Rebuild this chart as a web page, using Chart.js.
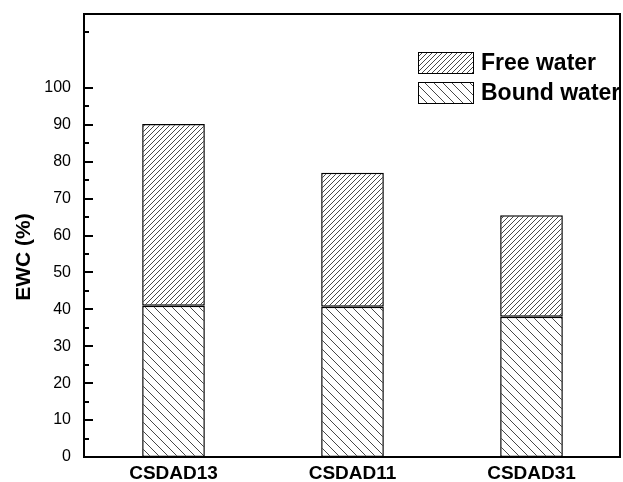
<!DOCTYPE html>
<html>
<head>
<meta charset="utf-8">
<script src="https://cdn.jsdelivr.net/npm/chart.js@4"></script>
<style>
  html, body { margin: 0; padding: 0; background: #fff; }
  #wrap { width: 623px; height: 482px; }
</style>
</head>
<body>
<div id="wrap"><canvas id="c" width="623" height="482"></canvas></div>
<script>
const categories = ["CSDAD13", "CSDAD11", "CSDAD31"];
const boundWater = [41.0, 40.7, 38.0];
const freeWater = [49.2, 36.3, 27.5];
const yLabelValues = [0, 10, 20, 30, 40, 50, 60, 70, 80, 90, 100];
const yMinorValues = [5, 15, 25, 35, 45, 55, 65, 75, 85, 95, 115];
const seriesNames = ["Bound water", "Free water"];
const yTitle = "EWC (%)";

const FONT = 'Arial, "Liberation Sans", sans-serif';

function hatch(period, dir) {
  const c = document.createElement('canvas');
  c.width = period; c.height = period;
  const g = c.getContext('2d');
  g.fillStyle = '#fff';
  g.fillRect(0, 0, period, period);
  g.strokeStyle = '#333';
  g.lineWidth = 0.9;
  g.beginPath();
  if (dir === '/') {
    for (const o of [-period, 0, period]) {
      g.moveTo(o, period); g.lineTo(o + period, 0);
    }
  } else {
    for (const o of [-period, 0, period]) {
      g.moveTo(o, 0); g.lineTo(o + period, period);
    }
  }
  g.stroke();
  return g.createPattern(c, 'repeat');
}

const ctx = document.getElementById('c').getContext('2d');
const freePattern = hatch(5, '/');
const boundPattern = hatch(9, '\\');

const framePlugin = {
  id: 'frame',
  afterDatasetsDraw(chart) {
    const { ctx, chartArea: a, scales } = chart;
    const y = scales.y;
    ctx.save();
    ctx.strokeStyle = '#000';
    ctx.lineWidth = 2;
    ctx.strokeRect(a.left, a.top, a.right - a.left - 1, a.bottom - a.top);
    ctx.beginPath();
    for (const v of yLabelValues) {
      const py = Math.round(y.getPixelForValue(v));
      ctx.moveTo(a.left, py); ctx.lineTo(a.left + 9, py);
    }
    for (const v of yMinorValues) {
      const py = Math.round(y.getPixelForValue(v));
      ctx.moveTo(a.left, py); ctx.lineTo(a.left + 5, py);
    }
    ctx.stroke();
    ctx.fillStyle = '#000';
    ctx.font = 'bold 21px ' + FONT;
    ctx.textAlign = 'center';
    ctx.textBaseline = 'middle';
    ctx.translate(24, 257);
    ctx.rotate(-Math.PI / 2);
    ctx.fillText(yTitle, 0, 0);
    ctx.restore();

    ctx.save();
    const ds = chart.data.datasets;
    const order = [1, 0];
    const bx = 418, bw = 55, bh = 21;
    const tops = [52, 82];
    order.forEach((i, k) => {
      ctx.fillStyle = ds[i].backgroundColor;
      ctx.fillRect(bx, tops[k], bw, bh);
      ctx.strokeStyle = '#000';
      ctx.lineWidth = 1;
      ctx.strokeRect(bx + 0.5, tops[k] + 0.5, bw, bh);
      ctx.fillStyle = '#000';
      ctx.font = 'bold 23px ' + FONT;
      ctx.textAlign = 'left';
      ctx.textBaseline = 'middle';
      ctx.fillText(ds[i].label, 481, tops[k] + bh / 2 + 1);
    });
    ctx.restore();
  }
};

new Chart(ctx, {
  type: 'bar',
  data: {
    labels: categories,
    datasets: [
      {
        label: seriesNames[0],
        data: boundWater,
        backgroundColor: boundPattern,
        borderColor: '#000',
        borderWidth: 1.5,
        borderSkipped: false,
        categoryPercentage: 1,
        barPercentage: 0.35
      },
      {
        label: seriesNames[1],
        data: freeWater,
        backgroundColor: freePattern,
        borderColor: '#000',
        borderWidth: 1.5,
        borderSkipped: false,
        categoryPercentage: 1,
        barPercentage: 0.35
      }
    ]
  },
  options: {
    responsive: false,
    animation: false,
    events: [],
    layout: { padding: { top: 14, right: 2, left: 0, bottom: 0 } },
    plugins: {
      legend: { display: false },
      tooltip: { enabled: false },
      title: { display: false }
    },
    scales: {
      x: {
        stacked: true,
        grid: { display: false },
        border: { display: false },
        ticks: {
          color: '#000',
          font: { family: FONT, size: 19, weight: 'bold' },
          padding: -3,
          maxRotation: 0
        },
        afterFit(s) { s.height = 25; s.paddingLeft = 0; s.paddingRight = 0; }
      },
      y: {
        stacked: true,
        min: 0,
        max: 120,
        grid: { display: false },
        border: { display: false },
        ticks: {
          stepSize: 5,
          autoSkip: false,
          color: '#000',
          padding: 5,
          font: { family: FONT, size: 16 },
          callback: (v) => (yLabelValues.includes(v) ? String(v) : '')
        },
        afterFit(s) { s.width = 84; s.paddingTop = 0; s.paddingBottom = 0; }
      }
    }
  },
  plugins: [framePlugin]
});
</script>
</body>
</html>
